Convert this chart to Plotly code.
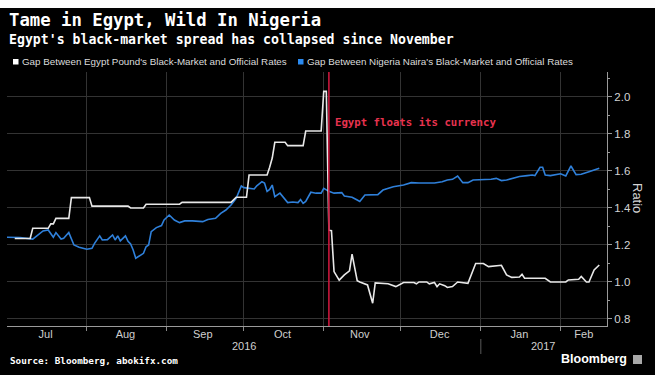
import plotly.graph_objects as go

# ---------------- data ----------------
egypt_dates = [
    "2016-07-04", "2016-07-10", "2016-07-11", "2016-07-17", "2016-07-18", "2016-07-19",
    "2016-07-20", "2016-07-25", "2016-07-26", "2016-08-02", "2016-08-03", "2016-08-17",
    "2016-08-18", "2016-08-23", "2016-08-24", "2016-09-06", "2016-09-07", "2016-09-26",
    "2016-09-28", "2016-10-02", "2016-10-03", "2016-10-10", "2016-10-11", "2016-10-12",
    "2016-10-13", "2016-10-17", "2016-10-18", "2016-10-24", "2016-10-25", "2016-10-31",
    "2016-11-01", "2016-11-02", "2016-11-03", "2016-11-04", "2016-11-05", "2016-11-07",
    "2016-11-09", "2016-11-11", "2016-11-12", "2016-11-14", "2016-11-15", "2016-11-18",
    "2016-11-20", "2016-11-21", "2016-11-26", "2016-11-29", "2016-12-02", "2016-12-06",
    "2016-12-07", "2016-12-08", "2016-12-11", "2016-12-12", "2016-12-14", "2016-12-15",
    "2016-12-16", "2016-12-18", "2016-12-19", "2016-12-21", "2016-12-23", "2016-12-26",
    "2016-12-27", "2016-12-30", "2017-01-02", "2017-01-04", "2017-01-09", "2017-01-11",
    "2017-01-13", "2017-01-16", "2017-01-17", "2017-01-18", "2017-01-26", "2017-01-28",
    "2017-02-03", "2017-02-04", "2017-02-08", "2017-02-09", "2017-02-11", "2017-02-12",
    "2017-02-14", "2017-02-16",
]
egypt_values = [
    1.235, 1.235, 1.290, 1.290, 1.314, 1.314,
    1.344, 1.344, 1.456, 1.456, 1.410, 1.410,
    1.400, 1.400, 1.420, 1.420, 1.430, 1.430,
    1.458, 1.458, 1.578, 1.578, 1.620, 1.670,
    1.755, 1.755, 1.737, 1.737, 1.816, 1.816,
    2.030, 2.030, 1.280, 1.277, 1.056, 1.010,
    1.038, 1.060, 1.150, 1.007, 1.000, 0.984,
    0.885, 0.995, 0.990, 0.975, 0.997, 0.997,
    0.990, 1.000, 1.000, 0.990, 0.997, 0.975,
    0.990, 0.980, 0.970, 0.975, 1.000, 0.997,
    0.993, 1.100, 1.100, 1.083, 1.090, 1.038,
    1.025, 1.027, 1.042, 1.020, 1.020, 1.000,
    1.000, 1.011, 1.015, 1.030, 1.000, 1.000,
    1.065, 1.092,
]

nigeria_dates = [
    "2016-07-01", "2016-07-06", "2016-07-11", "2016-07-13", "2016-07-15", "2016-07-17",
    "2016-07-19", "2016-07-20", "2016-07-22", "2016-07-23", "2016-07-25", "2016-07-27",
    "2016-07-29", "2016-08-01", "2016-08-03", "2016-08-04", "2016-08-06", "2016-08-07",
    "2016-08-09", "2016-08-11", "2016-08-12", "2016-08-13", "2016-08-14", "2016-08-16",
    "2016-08-17", "2016-08-18", "2016-08-19", "2016-08-20", "2016-08-21", "2016-08-23",
    "2016-08-24", "2016-08-25", "2016-08-26", "2016-08-28", "2016-08-30", "2016-08-31",
    "2016-09-02", "2016-09-04", "2016-09-06", "2016-09-08", "2016-09-11", "2016-09-15",
    "2016-09-17", "2016-09-20", "2016-09-22", "2016-09-24", "2016-09-26", "2016-09-28",
    "2016-09-30", "2016-10-01", "2016-10-05", "2016-10-06", "2016-10-08", "2016-10-09",
    "2016-10-10", "2016-10-11", "2016-10-12", "2016-10-13", "2016-10-15", "2016-10-18",
    "2016-10-20", "2016-10-22", "2016-10-23", "2016-10-24", "2016-10-25", "2016-10-27",
    "2016-10-29", "2016-10-31", "2016-11-01", "2016-11-03", "2016-11-05", "2016-11-08",
    "2016-11-09", "2016-11-12", "2016-11-14", "2016-11-15", "2016-11-17", "2016-11-22",
    "2016-11-24", "2016-11-28", "2016-12-02", "2016-12-05", "2016-12-08", "2016-12-11",
    "2016-12-14", "2016-12-17", "2016-12-19", "2016-12-21", "2016-12-23", "2016-12-25",
    "2016-12-27", "2016-12-29", "2017-01-03", "2017-01-05", "2017-01-07", "2017-01-09",
    "2017-01-11", "2017-01-13", "2017-01-16", "2017-01-19", "2017-01-21", "2017-01-22",
    "2017-01-24", "2017-01-25", "2017-01-26", "2017-01-28", "2017-01-31", "2017-02-01",
    "2017-02-03", "2017-02-05", "2017-02-07", "2017-02-09", "2017-02-12", "2017-02-14",
    "2017-02-16",
]
nigeria_values = [
    1.242, 1.240, 1.232, 1.254, 1.276, 1.281,
    1.242, 1.267, 1.232, 1.236, 1.267, 1.200,
    1.188, 1.177, 1.182, 1.209, 1.249, 1.227,
    1.229, 1.254, 1.227, 1.249, 1.222, 1.249,
    1.220, 1.205, 1.173, 1.128, 1.137, 1.155,
    1.190, 1.200, 1.272, 1.294, 1.305, 1.335,
    1.362, 1.335, 1.321, 1.330, 1.330, 1.326,
    1.338, 1.344, 1.371, 1.389, 1.416, 1.452,
    1.519, 1.510, 1.503, 1.520, 1.542, 1.535,
    1.489, 1.500, 1.524, 1.461, 1.480, 1.429,
    1.432, 1.429, 1.445, 1.425, 1.435, 1.485,
    1.480, 1.480, 1.506, 1.490, 1.480, 1.483,
    1.465, 1.458, 1.443, 1.435, 1.470, 1.472,
    1.497, 1.515, 1.524, 1.537, 1.535, 1.537,
    1.535, 1.542, 1.551, 1.555, 1.573, 1.537,
    1.537, 1.551, 1.551, 1.555, 1.560, 1.548,
    1.551, 1.560, 1.570, 1.575, 1.578, 1.575,
    1.620, 1.620, 1.578, 1.575, 1.584, 1.585,
    1.573, 1.627, 1.580, 1.582, 1.596, 1.605,
    1.615,
]

series_names = [
    "Gap Between Egypt Pound's Black-Market and Official Rates",
    "Gap Between Nigeria Naira's Black-Market and Official Rates",
]
event_date = "2016-11-03"
event_label = "Egypt floats its currency"

x_range = ["2016-07-01", "2017-02-19"]
month_starts = ["2016-08-01", "2016-09-01", "2016-10-01", "2016-11-01",
                "2016-12-01", "2017-01-01", "2017-02-01"]
month_label_dates = ["2016-07-16", "2016-08-16", "2016-09-15", "2016-10-16",
                     "2016-11-15", "2016-12-16", "2017-01-16", "2017-02-10"]
month_labels = ["Jul", "Aug", "Sep", "Oct", "Nov", "Dec", "Jan", "Feb"]
year_label_dates = ["2016-10-01", "2017-01-25"]
year_labels = ["2016", "2017"]
year_break = "2017-01-01"

y_range = [0.762, 2.135]
y_ticks = [0.8, 1.0, 1.2, 1.4, 1.6, 1.8, 2.0]

# ---------------- styling ----------------
TOP_STRIP = 8                     # light band above the figure (page padding)
W, H = 655, 375 - TOP_STRIP
ML, MR, MT, MB = 7, 48, 72 - TOP_STRIP, 49
PW, PH = W - ML - MR, H - MT - MB


def px_x(p):
    """window pixel column -> paper x"""
    return (p - ML) / PW


def px_y(p):
    """window pixel row -> paper y"""
    return (H - MB - (p - TOP_STRIP)) / PH


WHITE = "#e8e8e8"
BLUE = "#2f80da"
GRID = "#333333"
MONO = "DejaVu Sans Mono"
SANS = "Liberation Sans"

fig = go.Figure()
fig.add_trace(go.Scatter(x=nigeria_dates, y=nigeria_values, mode="lines",
                         line=dict(color=BLUE, width=1.6), name=series_names[1],
                         showlegend=False, hoverinfo="skip"))
fig.add_trace(go.Scatter(x=egypt_dates, y=egypt_values, mode="lines",
                         line=dict(color=WHITE, width=1.6), name=series_names[0],
                         showlegend=False, hoverinfo="skip"))
# carrier trace for the label axis
fig.add_trace(go.Scatter(x=month_label_dates, y=[None] * len(month_label_dates),
                         xaxis="x2", mode="lines", showlegend=False, hoverinfo="skip"))

fig.update_layout(
    width=W, height=H,
    margin=dict(l=ML, r=MR, t=MT, b=MB, pad=0, autoexpand=False),
    paper_bgcolor="#000000", plot_bgcolor="#000000",
    hovermode=False, showlegend=False,
    xaxis=dict(type="date", range=x_range, tickvals=month_starts, showticklabels=False,
               ticks="outside", ticklen=4, tickcolor="#8a8a8a", tickwidth=1,
               showgrid=True, gridcolor=GRID, gridwidth=1, automargin=False,
               showline=True, linecolor="#9a9a9a", linewidth=1, zeroline=False),
    xaxis2=dict(type="date", range=x_range, overlaying="x", anchor="y", side="bottom",
                tickvals=month_label_dates, ticktext=month_labels, ticks="",
                showgrid=False, showline=False, zeroline=False, automargin=False,
                tickfont=dict(family=SANS, size=11, color="#cfcfcf")),
    yaxis=dict(side="right", range=y_range, tickvals=y_ticks, tickformat=".1f",
               ticks="outside", ticklen=4, tickcolor="#9a9a9a", automargin=False,
               showgrid=True, gridcolor=GRID, gridwidth=1,
               showline=True, linecolor="#9a9a9a", linewidth=1, zeroline=False,
               tickfont=dict(family=SANS, size=11.5, color="#d4d4d4"),
               minor=dict(dtick=0.1, ticks="outside", ticklen=2, tickcolor="#9a9a9a",
                          showgrid=False)),
)

shapes = [
    # event line
    dict(type="line", xref="x", yref="paper", x0=event_date, x1=event_date, y0=0, y1=1,
         line=dict(color="#c8163c", width=1.6)),
    # year separator
    dict(type="line", xref="x", yref="paper", x0=year_break, x1=year_break,
         y0=px_y(339), y1=px_y(354), line=dict(color="#5a5a5a", width=1)),
    # legend swatches
    dict(type="rect", xref="paper", yref="paper", x0=px_x(13), x1=px_x(18.5),
         y0=px_y(64.5), y1=px_y(59), fillcolor="#ffffff", line=dict(width=0)),
    dict(type="rect", xref="paper", yref="paper", x0=px_x(298), x1=px_x(303.5),
         y0=px_y(64.5), y1=px_y(59), fillcolor="#2a8af0", line=dict(width=0)),
    # Bloomberg icon
    dict(type="rect", xref="paper", yref="paper", x0=px_x(633), x1=px_x(642),
         y0=px_y(364), y1=px_y(355), fillcolor="#a8a8a8", line=dict(width=0)),
]
fig.update_layout(shapes=shapes)

ann = []
ann.append(dict(text="<b>Tame in Egypt, Wild In Nigeria</b>", xref="paper", yref="paper",
                x=px_x(7), y=px_y(20.5), xanchor="left", yanchor="middle", showarrow=False,
                font=dict(family=MONO, size=17.3, color="#ffffff")))
ann.append(dict(text="<b>Egypt's black-market spread has collapsed since November</b>",
                xref="paper", yref="paper", x=px_x(7), y=px_y(39.5), xanchor="left",
                yanchor="middle", showarrow=False,
                font=dict(family=MONO, size=13.2, color="#ffffff")))
ann.append(dict(text=series_names[0], xref="paper", yref="paper", x=px_x(20), y=px_y(61.5),
                xanchor="left", yanchor="middle", showarrow=False,
                font=dict(family=SANS, size=9.8, color="#dcdcdc")))
ann.append(dict(text=series_names[1], xref="paper", yref="paper", x=px_x(305), y=px_y(61.5),
                xanchor="left", yanchor="middle", showarrow=False,
                font=dict(family=SANS, size=9.8, color="#dcdcdc")))
ann.append(dict(text="<b>" + event_label + "</b>", xref="x", yref="paper", x=event_date,
                y=px_y(122), xanchor="left", yanchor="middle", xshift=4, showarrow=False,
                font=dict(family=MONO, size=10.7, color="#e8334f")))
for d, t in zip(year_label_dates, year_labels):
    ann.append(dict(text=t, xref="x", yref="paper", x=d, y=px_y(346), xanchor="center",
                    yanchor="middle", showarrow=False,
                    font=dict(family=SANS, size=11, color="#cfcfcf")))
ann.append(dict(text="Ratio", xref="paper", yref="paper", x=px_x(638), y=px_y(198),
                xanchor="center", yanchor="middle", textangle=90, showarrow=False,
                font=dict(family=SANS, size=13, color="#d4d4d4")))
ann.append(dict(text="<b>Source: Bloomberg, abokifx.com</b>", xref="paper", yref="paper",
                x=px_x(8), y=px_y(360), xanchor="left", yanchor="middle", showarrow=False,
                font=dict(family=MONO, size=9.3, color="#ffffff")))
ann.append(dict(text="<b>Bloomberg</b>", xref="paper", yref="paper", x=px_x(629),
                y=px_y(359), xanchor="right", yanchor="middle", showarrow=False,
                font=dict(family=SANS, size=12.5, color="#ffffff")))
fig.update_layout(annotations=ann)

# page: light band on top (as in the reference), no other margin
fig.write_html(
    "out.html",
    config={"displayModeBar": False, "staticPlot": True},
    post_script=("document.documentElement.style.background='#fcfcfc';"
                 "document.body.style.margin='0';"
                 "document.body.style.padding='8px 0 0 0';"
                 "document.body.style.background='#fcfcfc';"
                 "document.body.style.overflow='hidden';"),
)
